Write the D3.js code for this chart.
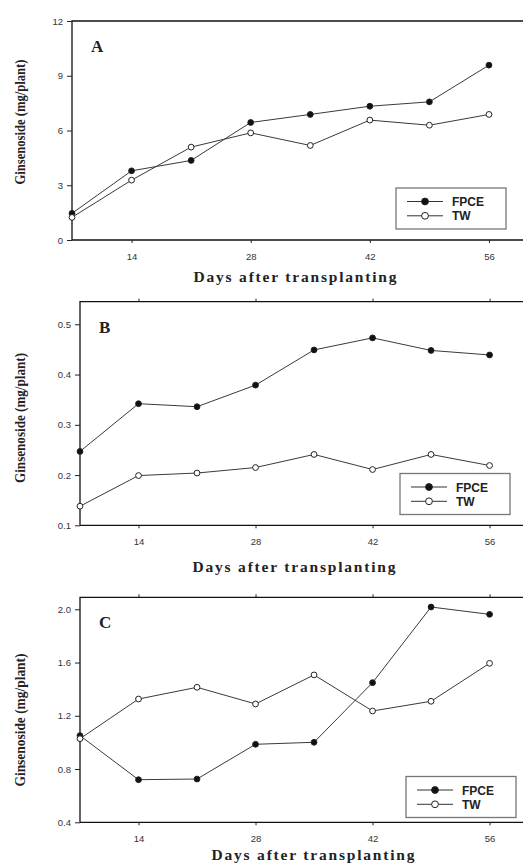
<!DOCTYPE html>
<html>
<head>
<meta charset="utf-8">
<script src="https://cdn.jsdelivr.net/npm/d3@7"></script>
<style>
  body { margin: 0; background: #fff; }
  svg { display: block; }
</style>
</head>
<body>
<svg id="chart" width="523" height="863"></svg>
<script>
// sampling days
const days = [7, 14, 21, 28, 35, 42, 49, 56];
const xTicks = [14, 28, 42, 56];

// panel A
const fpceA = [1.46, 3.79, 4.36, 6.44, 6.88, 7.33, 7.57, 9.58];
const twA = [1.24, 3.28, 5.09, 5.87, 5.18, 6.57, 6.29, 6.88];
const yTicksA = [0, 3, 6, 9, 12];

// panel B
const fpceB = [0.247, 0.342, 0.336, 0.379, 0.449, 0.473, 0.448, 0.439];
const twB = [0.138, 0.199, 0.204, 0.215, 0.241, 0.211, 0.241, 0.219];
const yTicksB = [0.1, 0.2, 0.3, 0.4, 0.5];

// panel C
const fpceC = [1.051, 0.72, 0.725, 0.986, 1.001, 1.449, 2.017, 1.962];
const twC = [1.028, 1.326, 1.414, 1.289, 1.507, 1.236, 1.309, 1.594];
const yTicksC = [0.4, 0.8, 1.2, 1.6, 2.0];

const seriesNames = ["FPCE", "TW"];

const svg = d3.select("#chart");

function panel(opt) {
  const g = svg.append("g");
  const x = d3.scaleLinear().domain([7, 60]).range([opt.left, 523]);
  const y = d3.scaleLinear().domain(opt.yDomain).range([opt.bottom, opt.top]);

  // frame: left, bottom, top
  g.append("path")
      .attr("d", `M${opt.left},${opt.bottom}V${opt.top}H523M${opt.left},${opt.bottom}H523`)
      .attr("fill", "none")
      .attr("stroke", "#111")
      .attr("stroke-width", 1.3);

  const yAxis = g.append("g")
      .attr("transform", `translate(${opt.left},0)`)
      .call(d3.axisLeft(y).tickValues(opt.yTicks).tickFormat(opt.fmt).tickSize(5).tickPadding(4));
  const xAxis = g.append("g")
      .attr("transform", `translate(0,${opt.bottom})`)
      .call(d3.axisBottom(x).tickValues(xTicks).tickSize(3).tickPadding(10));
  if (opt.topTicks) {
    g.append("g")
        .attr("transform", `translate(0,${opt.top})`)
        .call(d3.axisTop(x).tickValues(xTicks).tickSize(3).tickFormat(""))
        .select(".domain").remove();
  }
  [yAxis, xAxis].forEach(a => {
    a.select(".domain").remove();
    a.selectAll("text")
        .attr("font-family", "Liberation Sans, Arial, sans-serif")
        .attr("font-size", 9.5)
        .attr("fill", "#333");
  });
  g.selectAll(".tick line").attr("stroke", "#222");

  const line = d3.line().x((d, i) => x(days[i])).y(d => y(d));
  const data = [opt.fpce, opt.tw];
  data.forEach(vals => {
    g.append("path")
        .datum(vals)
        .attr("d", line)
        .attr("fill", "none")
        .attr("stroke", "#3a3a3a")
        .attr("stroke-width", 1);
  });
  data.forEach((vals, k) => {
    g.selectAll(null)
      .data(vals)
      .join("circle")
        .attr("cx", (d, i) => x(days[i]))
        .attr("cy", d => y(d))
        .attr("r", 2.9)
        .attr("fill", k === 0 ? "#111" : "#fff")
        .attr("stroke", "#222")
        .attr("stroke-width", 1);
  });

  // panel letter
  g.append("text")
      .attr("x", opt.left + 19)
      .attr("y", opt.top + 31)
      .attr("font-family", "Liberation Serif, serif")
      .attr("font-size", 17)
      .attr("font-weight", "bold")
      .attr("fill", "#222")
      .text(opt.letter);

  // legend
  const lg = g.append("g").attr("transform", `translate(${opt.legend[0]},${opt.legend[1]})`);
  lg.append("rect")
      .attr("width", 110).attr("height", 41)
      .attr("fill", "#fff")
      .attr("stroke", "#777")
      .attr("stroke-width", 1.3);
  seriesNames.forEach((name, k) => {
    const yy = 13.5 + k * 14.3;
    lg.append("line")
        .attr("x1", 11).attr("x2", 47).attr("y1", yy).attr("y2", yy)
        .attr("stroke", "#333").attr("stroke-width", 1);
    lg.append("circle")
        .attr("cx", 29).attr("cy", yy).attr("r", 3.4)
        .attr("fill", k === 0 ? "#111" : "#fff")
        .attr("stroke", "#222");
    lg.append("text")
        .attr("x", 56).attr("y", yy + 4.5)
        .attr("font-family", "Liberation Sans, Arial, sans-serif")
        .attr("font-weight", "bold")
        .attr("font-size", 12)
        .attr("fill", "#222")
        .text(name);
  });

  // axis titles
  g.append("text")
      .attr("x", opt.xTitle[0])
      .attr("y", opt.xTitle[1])
      .attr("text-anchor", "middle")
      .attr("font-family", "Liberation Serif, serif")
      .attr("font-weight", "bold")
      .attr("font-size", 15.5)
      .attr("textLength", 203)
      .attr("lengthAdjust", "spacing")
      .attr("fill", "#222")
      .text("Days after transplanting");
  g.append("text")
      .attr("transform", `translate(25,${opt.yTitle[0]}) rotate(-90)`)
      .attr("text-anchor", "middle")
      .attr("font-family", "Liberation Serif, serif")
      .attr("font-weight", "bold")
      .attr("font-size", 15)
      .attr("textLength", opt.yTitle[1])
      .attr("lengthAdjust", "spacingAndGlyphs")
      .attr("fill", "#222")
      .text("Ginsenoside (mg/plant)");
}

panel({
  letter: "A", left: 72, top: 21, bottom: 240, yDomain: [0, 12], yTicks: yTicksA,
  fmt: d3.format("d"), fpce: fpceA, tw: twA, topTicks: false,
  legend: [396, 188], xTitle: [295, 282], yTitle: [122, 125]
});
panel({
  letter: "B", left: 80, top: 301.7, bottom: 525.3, yDomain: [0.1, 0.545], yTicks: yTicksB,
  fmt: d3.format(".1f"), fpce: fpceB, tw: twB, topTicks: true,
  legend: [400, 473.5], xTitle: [294, 572], yTitle: [418, 130]
});
panel({
  letter: "C", left: 80, top: 597.3, bottom: 822.3, yDomain: [0.4, 2.09], yTicks: yTicksC,
  fmt: d3.format(".1f"), fpce: fpceC, tw: twC, topTicks: true,
  legend: [406, 776.5], xTitle: [313, 860], yTitle: [720, 133]
});
</script>
</body>
</html>
